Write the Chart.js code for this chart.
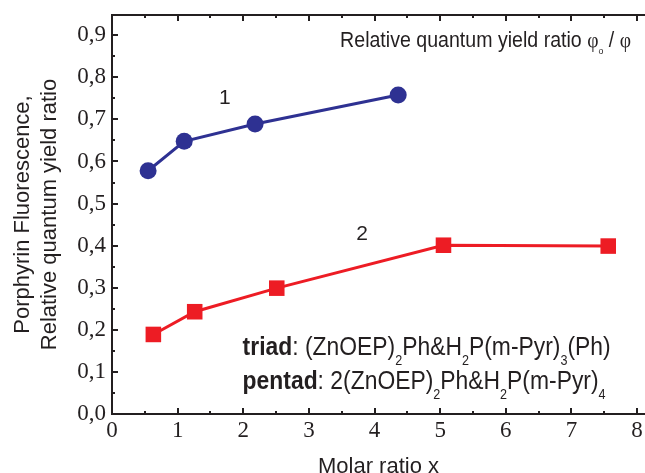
<!DOCTYPE html>
<html>
<head>
<meta charset="utf-8">
<script src="https://cdn.jsdelivr.net/npm/chart.js@4.4.1/dist/chart.umd.min.js"></script>
<style>
  html, body { margin: 0; padding: 0; background: #fff; }
  #wrap { width: 645px; height: 473px; }
</style>
</head>
<body>
<div id="wrap"><canvas id="chart" width="645" height="473"></canvas></div>
<script>
// curve 1 (blue circles) and curve 2 (red squares)
const curve1X = [0.55, 1.10, 2.18, 4.36];
const curve1Y = [0.578, 0.648, 0.689, 0.758];
const curve2X = [0.63, 1.26, 2.51, 5.05, 7.56];
const curve2Y = [0.189, 0.243, 0.299, 0.401, 0.399];

const xTicks = [0, 1, 2, 3, 4, 5, 6, 7, 8];
const yTicks = [0, 0.1, 0.2, 0.3, 0.4, 0.5, 0.6, 0.7, 0.8, 0.9];

const xTitle = 'Molar ratio x';
const yTitle = ['Porphyrin Fluorescence,', 'Relative quantum yield ratio'];

const INK = '#231f20';
const BLUE = '#2e3192';
const RED = '#ed1c24';
const SANS = '"Liberation Sans", Arial, sans-serif';
const SERIF = '"Liberation Serif", "Times New Roman", serif';

const toPoints = (xs, ys) => xs.map((x, i) => ({ x: x, y: ys[i] }));

// draws a run of text pieces (bold / subscript / serif), squeezed by sx
function drawRuns(ctx, runs, x, y, size, sx) {
    ctx.save();
    ctx.translate(x, y);
    ctx.scale(sx, 1);
    ctx.textAlign = 'left';
    ctx.textBaseline = 'alphabetic';
    let cx = 0;
    for (const r of runs) {
        const fs = size * (r.sub || 1);
        ctx.font = (r.bold ? 'bold ' : '') + fs + 'px ' + (r.serif ? SERIF : SANS);
        ctx.fillText(r.t, cx, r.sub ? size * (r.drop || 0.4) : 0);
        cx += ctx.measureText(r.t).width;
    }
    ctx.restore();
}

// frame: top border line and the small inward ticks
const framePlugin = {
    id: 'frame',
    afterDraw(chart) {
        const { ctx, chartArea: a, scales: { x, y } } = chart;
        ctx.save();
        ctx.strokeStyle = INK;
        ctx.lineWidth = 2;
        ctx.beginPath();
        ctx.moveTo(a.left - 1, a.top);
        ctx.lineTo(chart.width, a.top);
        ctx.stroke();

        const xs = [];
        xTicks.forEach(v => { xs.push([v, 6]); xs.push([v + 0.5, 3]); });
        ctx.beginPath();
        xs.forEach(([v, len]) => {
            if (v > x.max) return;
            const px = Math.round(x.getPixelForValue(v));
            ctx.moveTo(px, a.bottom); ctx.lineTo(px, a.bottom - len);
            ctx.moveTo(px, a.top); ctx.lineTo(px, a.top + len);
        });
        const ys = [];
        yTicks.forEach(v => { ys.push([v, 6]); ys.push([v + 0.05, 3]); });
        ys.forEach(([v, len]) => {
            if (v > y.max) return;
            const py = Math.round(y.getPixelForValue(v));
            ctx.moveTo(a.left, py); ctx.lineTo(a.left + len, py);
        });
        ctx.stroke();
        ctx.restore();
    }
};

// curve numbers and the text notes
const notesPlugin = {
    id: 'notes',
    afterDraw(chart) {
        const { ctx, scales: { x, y } } = chart;
        ctx.save();
        ctx.fillStyle = INK;
        ctx.textAlign = 'center';
        ctx.textBaseline = 'middle';
        ctx.font = '21px ' + SANS;
        ctx.fillText('1', x.getPixelForValue(1.72), y.getPixelForValue(0.75));
        ctx.fillText('2', x.getPixelForValue(3.81), y.getPixelForValue(0.427));

        drawRuns(ctx, [
            { t: 'Relative quantum yield ratio ' },
            { t: 'φ', serif: true },
            { t: 'o', sub: 0.45, drop: 0.3 },
            { t: ' / ' },
            { t: 'φ', serif: true }
        ], x.getPixelForValue(3.475), y.getPixelForValue(0.872), 22, 0.89);

        drawRuns(ctx, [
            { t: 'triad', bold: true },
            { t: ': (ZnOEP)' },
            { t: '2', sub: 0.55 },
            { t: 'Ph&H' },
            { t: '2', sub: 0.55 },
            { t: 'P(m-Pyr)' },
            { t: '3', sub: 0.55 },
            { t: '(Ph)' }
        ], x.getPixelForValue(1.99), y.getPixelForValue(0.140), 26, 0.88);

        drawRuns(ctx, [
            { t: 'pentad', bold: true },
            { t: ': 2(ZnOEP)' },
            { t: '2', sub: 0.55 },
            { t: 'Ph&H' },
            { t: '2', sub: 0.55 },
            { t: 'P(m-Pyr)' },
            { t: '4', sub: 0.55 }
        ], x.getPixelForValue(1.99), y.getPixelForValue(0.060), 26, 0.88);
        ctx.restore();
    }
};

const chart = new Chart(document.getElementById('chart'), {
    type: 'line',
    data: {
        datasets: [{
            label: '1',
            data: toPoints(curve1X, curve1Y),
            borderColor: BLUE,
            backgroundColor: BLUE,
            borderWidth: 3,
            pointStyle: 'circle',
            pointRadius: 8.5,
            pointBorderWidth: 0,
            tension: 0
        }, {
            label: '2',
            data: toPoints(curve2X, curve2Y),
            borderColor: RED,
            backgroundColor: RED,
            borderWidth: 3,
            pointStyle: 'rect',
            pointRadius: 11,
            pointBorderWidth: 0,
            tension: 0
        }]
    },
    options: {
        responsive: false,
        animation: false,
        layout: { autoPadding: false, padding: { top: 15, right: 0, bottom: 0, left: 0 } },
        plugins: { legend: { display: false }, tooltip: { enabled: false } },
        scales: {
            x: {
                type: 'linear',
                min: 0,
                max: 8.12,
                afterBuildTicks: s => { s.ticks = xTicks.map(v => ({ value: v })); },
                afterFit: s => { s.height = 59; s.paddingLeft = 0; s.paddingRight = 0; },
                grid: { display: false, drawTicks: false },
                border: { display: true, color: INK, width: 2 },
                ticks: {
                    padding: 3,
                    maxRotation: 0,
                    color: INK,
                    font: { family: SERIF, size: 23, lineHeight: 1.2 },
                    callback: v => String(v)
                },
                title: {
                    display: true,
                    text: xTitle,
                    color: INK,
                    font: { family: SANS, size: 22, lineHeight: 1 },
                    padding: { top: 0, bottom: -5 }
                }
            },
            y: {
                type: 'linear',
                min: 0,
                max: 0.948,
                afterBuildTicks: s => { s.ticks = yTicks.map(v => ({ value: v })); },
                afterFit: s => { s.width = 112; s.paddingTop = 0; s.paddingBottom = 0; },
                grid: { display: false, drawTicks: false },
                border: { display: true, color: INK, width: 2 },
                ticks: {
                    padding: 6,
                    color: INK,
                    font: { family: SERIF, size: 23 },
                    callback: v => v.toFixed(1).replace('.', ',')
                },
                title: {
                    display: true,
                    text: yTitle,
                    color: INK,
                    font: { family: SANS, size: 22, lineHeight: '27px' },
                    padding: { top: 9, bottom: 0 }
                }
            }
        }
    },
    plugins: [framePlugin, notesPlugin]
});
</script>
</body>
</html>
